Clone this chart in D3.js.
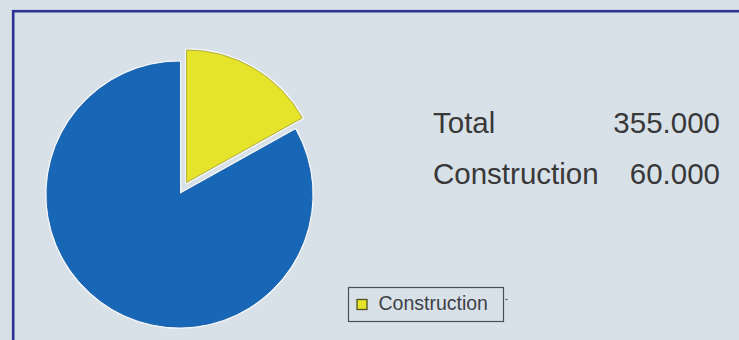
<!DOCTYPE html>
<html>
<head>
<meta charset="utf-8">
<script src="https://cdn.jsdelivr.net/npm/d3@7"></script>
<style>
  html, body { margin: 0; padding: 0; background: #d8e0e7; }
  svg { display: block; }
</style>
</head>
<body>
<svg id="chart" width="739" height="340"></svg>
<script>
// Sector breakdown
const categories = ["Construction", "Other"];
const values = [60, 295];
const summaryLabels = ["Total", "Construction"];
const summaryValues = [355, 60];
const legendItems = ["Construction"];

const colors = d3.scaleOrdinal()
  .domain(categories)
  .range(["#e6e42a", "#1767b6"]);
const edgeColors = d3.scaleOrdinal()
  .domain(categories)
  .range(["#b3ac3a", "#1a62ad"]);

const svg = d3.select("#chart");
const W = 739, H = 340;

svg.append("rect").attr("x", 0).attr("y", 0).attr("width", W).attr("height", H)
  .attr("fill", "#d8e0e7");

// Frame
svg.append("rect")
  .attr("x", 13.2).attr("y", 11.2)
  .attr("width", W + 20).attr("height", H + 20)
  .attr("fill", "#d9e1e8")
  .attr("stroke", "#2e3393")
  .attr("stroke-width", 2.6);

// Pie, with the construction slice pulled out along its bisector
const cx = 179.5, cy = 194.5, r = 132.5, explode = 14;
const pie = d3.pie().sort(null).value(d => d.v);
const arcs = pie(categories.map((c, i) => ({ c, v: values[i] })));
const arc = d3.arc().innerRadius(0).outerRadius(r);

const g = svg.append("g").attr("transform", `translate(${cx},${cy})`);
const slices = g.selectAll("g.slice").data(arcs).join("g")
  .attr("class", "slice")
  .attr("transform", d => {
    if (d.data.c !== "Construction") return null;
    const mid = (d.startAngle + d.endAngle) / 2;
    return `translate(${Math.sin(mid) * explode},${-Math.cos(mid) * explode})`;
  });

// light halo around each slice
slices.append("path")
  .attr("d", arc)
  .attr("fill", "none")
  .attr("stroke", "#f2f6fa")
  .attr("stroke-width", 3.5)
  .attr("stroke-linejoin", "round");
slices.append("path")
  .attr("d", arc)
  .attr("fill", d => colors(d.data.c))
  .attr("stroke", d => edgeColors(d.data.c))
  .attr("stroke-width", 1)
  .attr("stroke-linejoin", "round");

// Summary figures
const fmt = d3.format(".3f");
const rowY = d3.scalePoint().domain(summaryLabels).range([133, 184]);
const tg = svg.append("g")
  .attr("font-family", "'Liberation Sans', Arial, sans-serif")
  .attr("font-size", 29.5)
  .attr("fill", "#383838");
tg.selectAll("text.lbl").data(summaryLabels).join("text")
  .attr("class", "lbl")
  .attr("x", 433)
  .attr("y", d => rowY(d))
  .text(d => d);
tg.selectAll("text.val").data(summaryLabels).join("text")
  .attr("class", "val")
  .attr("x", 720)
  .attr("y", d => rowY(d))
  .attr("text-anchor", "end")
  .text((d, i) => fmt(summaryValues[i]));

// Legend
const lg = svg.append("g").attr("transform", "translate(348.5,287.5)");
lg.append("rect")
  .attr("width", 155).attr("height", 34)
  .attr("fill", "none")
  .attr("stroke", "#4a4e55")
  .attr("stroke-width", 1.2);
lg.append("line")
  .attr("x1", 157).attr("x2", 159).attr("y1", 12).attr("y2", 12)
  .attr("stroke", "#4a4e55").attr("stroke-width", 1.2);
const li = lg.selectAll("g.item").data(legendItems).join("g").attr("class", "item");
li.append("rect")
  .attr("x", 8.5).attr("y", 12).attr("width", 10).attr("height", 10)
  .attr("fill", d => colors(d))
  .attr("stroke", "#4f5020")
  .attr("stroke-width", 1.3);
li.append("text")
  .attr("x", 30).attr("y", 22)
  .attr("font-family", "'Liberation Sans', Arial, sans-serif")
  .attr("font-size", 19.5)
  .attr("fill", "#3c3f45")
  .text(d => d);
</script>
</body>
</html>
